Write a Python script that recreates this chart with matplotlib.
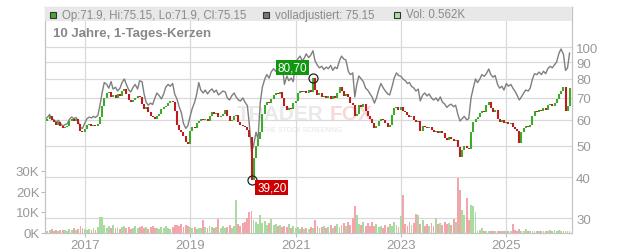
import pandas as pd
import matplotlib
matplotlib.use('Agg')
import matplotlib.pyplot as plt
from matplotlib.patches import Rectangle
from matplotlib.ticker import NullLocator

plt.rcParams['font.family'] = ['Liberation Sans', 'DejaVu Sans']

# halbmonatliche Kerzen, April 2016 bis März 2026
dates = pd.date_range('2016-04-01', periods=240, freq='SMS')
first_open = 60.0

close = [
    59.6, 60.5, 61.7, 59.8, 59.2, 58.0, 59.0, 57.6, 56.5, 57.2, 57.5, 59.4,
    60.3, 59.6, 60.2, 58.4, 55.6, 55.0, 56.4, 57.8, 58.2, 57.5, 58.0, 57.6,
    58.4, 61.0, 66.0, 70.0, 72.5, 73.0, 70.5, 71.5, 70.0, 71.8, 71.0, 73.5,
    74.8, 72.0, 69.0, 68.0, 69.2, 70.0, 71.2, 70.5, 67.0, 64.8, 65.5, 63.5,
    61.5, 61.0, 60.5, 61.5, 62.5, 64.8, 65.5, 66.0, 67.5, 68.6, 67.8, 64.0,
    58.0, 56.0, 55.0, 53.5, 51.5, 50.5, 55.5, 57.0, 56.5, 58.5, 59.5, 60.5,
    59.8, 60.4, 59.5, 61.5, 63.2, 62.5, 63.0, 61.0, 61.8, 62.5, 64.5, 61.5,
    59.5, 60.0, 61.5, 62.0, 59.0, 58.0, 57.5, 57.0, 55.8, 53.0, 39.2, 46.0,
    50.0, 52.5, 55.0, 62.5, 66.5, 68.0, 67.5, 69.5, 71.5, 72.5, 71.8, 72.8,
    70.0, 66.0, 64.5, 65.0, 64.8, 67.5, 68.5, 72.5, 73.5, 72.8, 73.5, 72.5,
    74.0, 73.0, 80.7, 74.0, 71.5, 72.5, 70.5, 71.0, 70.0, 70.8, 69.5, 71.0,
    70.2, 72.5, 75.5, 73.5, 71.0, 72.0, 70.5, 67.5, 66.5, 61.5, 62.5, 66.5,
    65.5, 67.0, 64.0, 61.5, 60.5, 58.5, 56.5, 57.5, 59.5, 60.5, 59.8, 58.5,
    57.0, 58.0, 62.0, 65.0, 65.5, 64.5, 65.5, 64.0, 63.5, 62.0, 61.0, 61.5,
    60.0, 59.0, 59.5, 55.5, 57.5, 57.0, 56.8, 57.2, 56.0, 55.0, 55.5, 54.8,
    55.6, 54.5, 52.8, 52.2, 53.0, 52.5, 51.8, 52.0, 49.5, 46.2, 48.5, 50.0,
    49.2, 48.8, 55.0, 59.0, 60.5, 61.0, 63.0, 64.0, 63.5, 66.5, 67.8, 65.0,
    63.5, 64.5, 60.5, 59.0, 60.0, 58.5, 59.0, 58.2, 58.8, 57.0, 56.2, 55.5,
    50.8, 55.0, 56.5, 57.5, 57.0, 58.0, 61.5, 64.0, 63.5, 64.5, 63.8, 65.0,
    64.5, 66.5, 67.0, 66.0, 67.5, 69.5, 72.0, 73.5, 75.5, 64.0, 66.0, 75.15,
]

adjusted = [
    60.3, 61.0, 62.3, 60.5, 60.0, 59.0, 59.8, 58.5, 57.4, 58.0, 58.4, 60.2,
    61.2, 60.5, 61.0, 59.4, 56.8, 56.5, 58.8, 60.5, 61.2, 60.8, 61.5, 61.0,
    62.0, 66.5, 73.0, 78.0, 77.0, 75.0, 78.5, 74.5, 75.5, 73.5, 75.0, 78.0,
    80.0, 77.0, 74.0, 73.0, 75.5, 77.0, 74.5, 79.0, 78.5, 72.0, 68.0, 66.5,
    67.5, 66.8, 70.0, 72.5, 71.0, 69.5, 72.0, 75.5, 77.0, 76.0, 77.5, 72.0,
    69.5, 66.0, 63.0, 58.5, 56.5, 57.5, 61.7, 65.0, 68.0, 72.0, 78.0, 74.0,
    72.5, 74.0, 72.0, 73.5, 74.6, 72.8, 74.0, 71.5, 72.5, 73.5, 73.0, 70.0,
    69.0, 71.0, 72.5, 70.5, 69.0, 68.5, 70.0, 68.0, 66.3, 58.0, 47.9, 50.0,
    55.0, 52.4, 68.0, 75.5, 80.0, 82.5, 80.5, 84.0, 86.0, 84.5, 87.0, 85.5,
    87.6, 77.0, 81.7, 79.0, 80.5, 78.5, 90.0, 92.0, 94.0, 91.0, 92.5, 95.5,
    93.0, 94.5, 97.6, 91.0, 88.0, 86.5, 87.5, 85.5, 87.0, 86.0, 88.0, 85.0,
    87.0, 86.0, 91.0, 94.0, 92.0, 91.5, 84.5, 82.5, 83.5, 70.5, 77.0, 81.7,
    80.0, 78.5, 75.0, 74.0, 72.0, 70.5, 67.5, 70.0, 74.5, 77.5, 75.0, 73.5,
    72.0, 71.5, 76.0, 80.5, 83.5, 82.0, 81.5, 80.0, 79.0, 77.5, 78.0, 76.0,
    75.0, 73.5, 74.5, 68.6, 71.5, 72.5, 71.0, 72.0, 70.0, 69.0, 70.0, 68.5,
    70.5, 68.0, 67.0, 65.5, 66.5, 67.0, 65.8, 66.5, 62.0, 59.5, 60.5, 61.5,
    60.0, 60.5, 70.0, 74.6, 80.0, 78.0, 80.0, 82.5, 81.5, 83.0, 85.8, 82.5,
    81.0, 82.0, 77.0, 75.0, 76.0, 74.0, 77.5, 76.0, 77.0, 75.0, 73.5, 71.5,
    69.0, 70.5, 72.5, 74.0, 73.5, 75.0, 80.0, 83.0, 82.5, 84.0, 82.5, 84.5,
    83.0, 86.0, 87.5, 86.5, 88.5, 90.0, 96.0, 98.8, 95.0, 85.0, 86.5, 96.0,
]

# Volumen in Tausend
volume = [
    1.2, 0.8, 1.0, 1.5, 0.9, 1.1, 0.7, 1.3, 1.0, 1.4, 0.9, 1.6,
    1.2, 2.0, 1.1, 1.8, 3.0, 2.4, 1.5, 1.2, 1.9, 1.0, 2.2, 1.4,
    2.6, 7.8, 7.6, 3.5, 2.4, 3.0, 2.0, 3.6, 2.2, 2.8, 1.9, 2.5,
    3.2, 2.1, 2.7, 1.8, 2.4, 3.0, 2.0, 2.6, 3.3, 2.2, 2.8, 1.9,
    2.5, 3.4, 2.0, 2.3, 1.7, 2.6, 2.1, 3.1, 2.4, 1.9, 2.6, 3.5,
    3.8, 3.2, 4.0, 2.8, 3.6, 3.0, 2.5, 2.2, 2.9, 1.8, 2.4, 2.0,
    6.2, 2.6, 2.1, 3.0, 2.5, 2.2, 2.8, 6.5, 2.4, 3.2, 2.0, 2.8,
    3.5, 2.2, 3.0, 15.8, 4.2, 3.4, 4.5, 5.0, 7.0, 10.0, 10.5, 6.0,
    5.2, 4.0, 8.6, 4.8, 5.5, 3.8, 4.4, 6.8, 3.6, 4.2, 3.0, 3.8,
    2.6, 3.4, 2.8, 4.0, 2.4, 3.1, 2.2, 2.9, 1.8, 2.5, 1.6, 2.2,
    1.9, 2.8, 2.4, 6.0, 3.0, 2.2, 2.8, 3.4, 2.0, 2.6, 3.8, 2.4,
    3.0, 4.0, 2.8, 3.5, 4.5, 3.2, 5.0, 3.8, 7.0, 13.0, 8.5, 4.2,
    3.6, 5.0, 3.2, 4.5, 3.0, 5.0, 3.4, 4.0, 2.6, 3.2, 2.2, 3.6,
    2.8, 4.0, 3.0, 5.0, 3.6, 2.8, 8.0, 18.2, 4.0, 3.4, 5.0, 3.8,
    4.5, 9.0, 8.5, 4.2, 6.0, 3.4, 4.0, 3.0, 4.4, 3.2, 7.0, 4.0,
    4.6, 3.8, 5.2, 4.0, 4.8, 3.6, 6.5, 5.0, 26.8, 20.6, 11.0, 8.5,
    16.6, 6.0, 13.3, 12.8, 10.0, 0.8, 1.0, 2.0, 0.6, 0.8, 0.5, 0.7,
    0.6, 0.9, 0.5, 0.8, 0.6, 0.7, 0.9, 0.5, 0.6, 4.0, 1.2, 0.8,
    1.5, 0.9, 0.7, 1.5, 0.8, 0.6, 0.9, 0.5, 0.7, 0.6, 0.8, 0.5,
    0.7, 0.9, 1.2, 0.6, 1.3, 0.8, 1.0, 0.7, 0.9, 0.8, 0.6, 0.56,
]

year_ticks = ['2017', '2019', '2021', '2023', '2025']
price_ticks = [30, 40, 50, 60, 70, 80, 90, 100]
vol_ticks = [0, 10, 20, 30]

header = [
    ('Op:71.9, Hi:75.15, Lo:71.9, Cl:75.15', '#44aa2e', 50),
    ('volladjustiert: 75.15', '#777777', 263),
    ('Vol: 0.562K', '#b3dcaa', 394),
]

RED = '#bf1b1f'
GREEN = '#3fa92c'
TXT = '#999999'

opens = [first_open] + close[:-1]
rising = [c >= o for o, c in zip(opens, close)]
lo = [min(o, c) for o, c in zip(opens, close)]
hi = [max(o, c) for o, c in zip(opens, close)]
cand_col = [GREEN if r else RED for r in rising]
vol_col = ['#a9dba0' if r else '#f2a5ab' for r in rising]

W, H = 632, 253
fig = plt.figure(figsize=(W / 100, H / 100), dpi=100)
ax = fig.add_axes([45 / W, 19.5 / H, 527 / W, 225.5 / H])
axv = ax.twinx()

# Kurs (rechte Achse, log)
ax.set_yscale('log')
ax.set_ylim(27.14, 132.8)
ax.set_xlim(pd.Timestamp('2016-03-30'), pd.Timestamp('2026-04-01'))
ax.grid(True, color='#d9d9d9', lw=0.9)
ax.set_axisbelow(True)
ax.plot(dates, adjusted, color='#7f7f7f', lw=1.0, zorder=3)
ax.vlines(dates, lo, hi, colors=cand_col, lw=1.5, zorder=4)

imax = close.index(max(close))
imin = close.index(min(close))
ax.plot(dates[imax], close[imax], 'o', mfc='none', mec='#222222', mew=0.9, ms=6.5, zorder=6)
ax.plot(dates[imin], close[imin], 'o', mfc='none', mec='#222222', mew=0.9, ms=6.5, zorder=6)
ax.annotate(f'{close[imax]:.2f}'.replace('.', ','), xy=(dates[imax], close[imax]),
            xytext=(-4, 3), textcoords='offset points', ha='right', va='bottom',
            color='white', fontsize=8.5, zorder=7,
            bbox=dict(boxstyle='square,pad=0.15', fc='#11960f', ec='none'))
ax.annotate(f'{close[imin]:.2f}'.replace('.', ','), xy=(dates[imin], close[imin]),
            xytext=(4, -1), textcoords='offset points', ha='left', va='top',
            color='white', fontsize=8.5, zorder=7,
            bbox=dict(boxstyle='square,pad=0.15', fc='#cc0000', ec='none'))

ax.yaxis.tick_right()
ax.set_yticks(price_ticks)
ax.set_yticklabels([str(p) for p in price_ticks])
ax.yaxis.set_minor_locator(NullLocator())
ax.tick_params(axis='y', length=0, pad=3, labelsize=9.5, labelcolor=TXT)
ax.set_xticks(pd.to_datetime([y + '-01-01' for y in year_ticks]))
ax.set_xticklabels(year_ticks)
ax.tick_params(axis='x', length=3, color='#bbbbbb', pad=2, labelsize=9.5, labelcolor=TXT)

# Wasserzeichen
ax.text(237 / W, (H - 115) / H, 'TRADER', transform=fig.transFigure, fontsize=15,
        fontweight='bold', color='#e9e9e9', ha='left', va='center', zorder=1)
ax.text(330 / W, (H - 115) / H, 'FOX', transform=fig.transFigure, fontsize=15,
        fontweight='bold', color='#f7d9d9', ha='left', va='center', zorder=1)
ax.text(263 / W, (H - 130) / H, 'THE STOCK SCREENING', transform=fig.transFigure,
        fontsize=4.8, color='#e6e6e6', ha='left', va='center', zorder=1)

# Volumen (linke Achse)
axv.bar(dates, volume, width=13, color=vol_col, zorder=2)
axv.set_ylim(0, 110)
axv.yaxis.tick_left()
axv.set_yticks(vol_ticks)
axv.set_yticklabels([f'{v}K' for v in vol_ticks])
axv.tick_params(axis='y', length=3, color='#bbbbbb', pad=1, labelsize=9.5, labelcolor=TXT)

for a in (ax, axv):
    for s in a.spines.values():
        s.set_color('#c4c4c4')

# Kopfzeile
axv.add_patch(Rectangle((0, 1 - 14.5 / 225.5), 1, 14.5 / 225.5, transform=axv.transAxes,
                        fc='#e8e8e8', ec='none', zorder=8, clip_on=False))
for label, col, px in header:
    fig.patches.append(Rectangle((px / W, (H - 18.5) / H), 6 / W, 6 / H, transform=fig.transFigure,
                                 fc=col, ec='#333333', lw=0.8, zorder=9))
    fig.text((px + 12) / W, (H - 15.5) / H, label, fontsize=8.3, color='#8a8a8a',
             va='center', ha='left', zorder=9)
fig.text(53 / W, (H - 33.5) / H, '10 Jahre, 1-Tages-Kerzen', fontsize=9.5, fontweight='bold',
         color='#888888', va='center', ha='left')

fig.savefig('out.png', dpi=100)
